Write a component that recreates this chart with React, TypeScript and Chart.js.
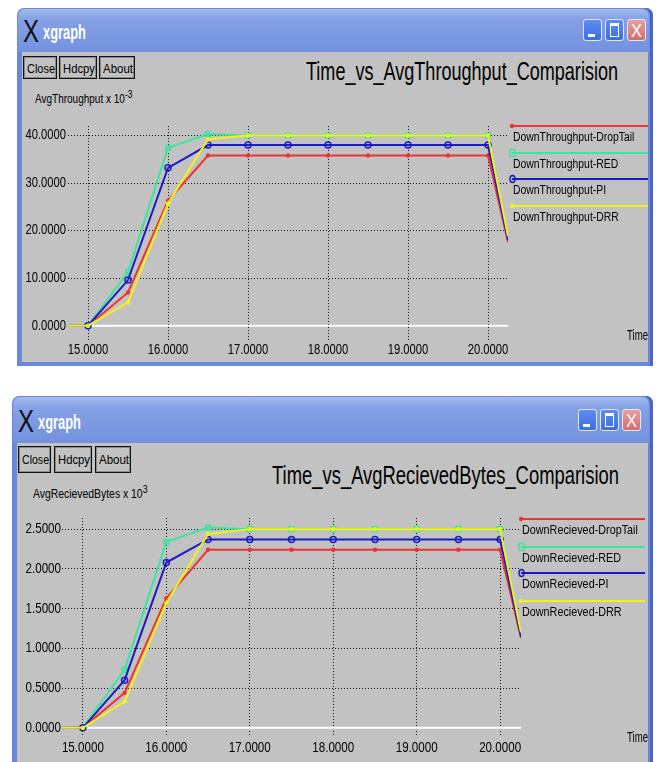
import React, { useEffect, useLayoutEffect, useRef } from "react";
import { Chart, registerables } from "chart.js";
Chart.register(...registerables);

// ---------- data ----------
const TIME = [14.75, 15, 15.5, 16, 16.5, 17, 17.5, 18, 18.5, 19, 19.5, 20, 20.25];
const X_TICKS = [15, 16, 17, 18, 19, 20];

const TP_NAMES = ["DownThroughput-DropTail", "DownThroughput-RED", "DownThroughput-PI", "DownThroughput-DRR"];
const TP_DROPTAIL = [0, 0, 7.0, 26.3, 35.8, 35.8, 35.8, 35.8, 35.8, 35.8, 35.8, 35.8, 17.6];
const TP_RED = [0, 0, 11.3, 37.4, 40.3, 40.0, 40.0, 40.0, 40.0, 40.0, 40.0, 40.0, 18.3];
const TP_PI = [0, 0, 9.6, 33.2, 38.0, 38.0, 38.0, 38.0, 38.0, 38.0, 38.0, 38.0, 18.0];
const TP_DRR = [0, 0, 4.9, 25.7, 39.2, 40.0, 40.0, 40.0, 40.0, 40.0, 40.0, 40.0, 18.8];
const TP_Y_TICKS = [0, 10, 20, 30, 40];

const RB_NAMES = ["DownRecieved-DropTail", "DownRecieved-RED", "DownRecieved-PI", "DownRecieved-DRR"];
const RB_DROPTAIL = [0, 0, 0.44, 1.63, 2.24, 2.24, 2.24, 2.24, 2.24, 2.24, 2.24, 2.24, 1.13];
const RB_RED = [0, 0, 0.73, 2.34, 2.52, 2.5, 2.5, 2.5, 2.5, 2.5, 2.5, 2.5, 1.18];
const RB_PI = [0, 0, 0.6, 2.08, 2.37, 2.37, 2.37, 2.37, 2.37, 2.37, 2.37, 2.37, 1.15];
const RB_DRR = [0, 0, 0.33, 1.57, 2.44, 2.5, 2.5, 2.5, 2.5, 2.5, 2.5, 2.5, 1.2];
const RB_Y_TICKS = [0, 0.5, 1, 1.5, 2, 2.5];

// ---------- styles ----------
const COLORS = ["#f03232", "#3ce69c", "#1c1cc4", "#f2f21a"];
const SANS = "'Liberation Sans', Arial, sans-serif";
const NARROW = 0.8;
const GRAY = "#c2c2c2";
const BLUE = "#6a88da";

function narrowText(ctx: any, text: string, x: number, y: number, size: number, sx: number, align: string) {
  ctx.save();
  ctx.font = `${size}px ${SANS}`;
  const w = ctx.measureText(text).width * sx;
  const x0 = align === "center" ? x - w / 2 : align === "right" ? x - w : x;
  ctx.translate(x0, y);
  ctx.scale(sx, 1);
  ctx.textAlign = "left";
  ctx.textBaseline = "middle";
  ctx.fillStyle = "#000";
  ctx.fillText(text, 0, 0);
  ctx.restore();
}

const decor = {
  id: "xgraphDecor",
  beforeDatasetsDraw(chart: any) {
    const { ctx, chartArea } = chart;
    const y0 = chart.scales.y.getPixelForValue(0);
    ctx.save();
    ctx.strokeStyle = "#ffffff";
    ctx.lineWidth = 2;
    ctx.beginPath();
    ctx.moveTo(chartArea.left, y0);
    ctx.lineTo(chartArea.right, y0);
    ctx.stroke();
    ctx.restore();
  },
  afterDraw(chart: any) {
    const o = chart.options.plugins.xgraphDecor;
    const { ctx, chartArea } = chart;
    const xs = chart.scales.x;
    const ys = chart.scales.y;
    xs.ticks.forEach((t: any) => {
      narrowText(ctx, Number(t.value).toFixed(4), xs.getPixelForValue(t.value), chartArea.bottom + o.xLabelDy, o.tickSize, o.sx, "center");
    });
    ys.ticks.forEach((t: any) => {
      narrowText(ctx, Number(t.value).toFixed(4), chartArea.left - o.yLabelPad, ys.getPixelForValue(t.value), o.tickSize, o.sx, "right");
    });
    ctx.save();
    chart.data.datasets.forEach((ds: any, i: number) => {
      const y = o.legendY[i];
      ctx.strokeStyle = ds.borderColor;
      ctx.lineWidth = 2;
      ctx.beginPath();
      ctx.moveTo(o.x0, y);
      ctx.lineTo(o.x1, y);
      ctx.stroke();
      ctx.fillStyle = ds.borderColor;
      ctx.lineWidth = 1.5;
      if (i === 1) {
        ctx.strokeRect(o.x0 - 2, y - 3.5, 5, 7);
      } else if (i === 2) {
        ctx.beginPath();
        ctx.ellipse(o.x0 + 0.5, y, 2.5, 3.5, 0, 0, Math.PI * 2);
        ctx.stroke();
      } else {
        ctx.beginPath();
        ctx.arc(o.x0, y, 2.2, 0, Math.PI * 2);
        ctx.fill();
      }
      narrowText(ctx, ds.label, o.x0 + 1, y + o.textDy, o.legendSize, o.sx, "left");
    });
    ctx.restore();
  },
};

type PanelCfg = {
  names: string[];
  series: number[][];
  yTicks: number[];
  yMin: number;
  yMax: number;
  left: number;
  top: number;
  w: number;
  h: number;
  padTop: number;
  padRight: number;
  yAxisW: number;
  xAxisH: number;
  xLabelDy: number;
  yLabelPad: number;
  tickSize: number;
  legendSize: number;
  legendY: number[];
  legendX0: number;
  legendX1: number;
  textDy: number;
};

const pointStyles = ["circle", "rect", "circle", "circle"];
const pointRadii = [2.2, 3.3, 3, 2.2];

function Plot({ cfg }: { cfg: PanelCfg }) {
  const ref = useRef<HTMLCanvasElement>(null);
  useEffect(() => {
    const last = TIME.length - 1;
    const hollow = (i: number) => i === 1 || i === 2;
    const chart = new Chart(ref.current as HTMLCanvasElement, {
      type: "line",
      data: {
        datasets: cfg.series.map((vals, i) => ({
          label: cfg.names[i],
          data: TIME.map((t, j) => ({ x: t, y: vals[j] })),
          borderColor: COLORS[i],
          backgroundColor: hollow(i) ? "rgba(0,0,0,0)" : COLORS[i],
          borderWidth: 2,
          tension: 0,
          order: 3 - i,
          pointStyle: pointStyles[i] as any,
          pointBorderWidth: hollow(i) ? 1.5 : 0,
          pointBorderColor: COLORS[i],
          pointBackgroundColor: hollow(i) ? "rgba(0,0,0,0)" : COLORS[i],
          pointRadius: (c: any) => (c.dataIndex === 0 || c.dataIndex === last ? 0 : pointRadii[i]),
          fill: false,
        })),
      },
      options: {
        animation: false,
        responsive: false,
        devicePixelRatio: 1,
        layout: { padding: { top: cfg.padTop, right: cfg.padRight, left: 0, bottom: 0 } },
        plugins: {
          legend: { display: false },
          tooltip: { enabled: false },
          title: { display: false },
          xgraphDecor: {
            legendY: cfg.legendY,
            x0: cfg.legendX0,
            x1: cfg.legendX1,
            legendSize: cfg.legendSize,
            tickSize: cfg.tickSize,
            textDy: cfg.textDy,
            xLabelDy: cfg.xLabelDy,
            yLabelPad: cfg.yLabelPad,
            sx: NARROW,
          },
        } as any,
        scales: {
          x: {
            type: "linear",
            min: TIME[0],
            max: TIME[last],
            afterBuildTicks: (s: any) => {
              s.ticks = X_TICKS.map((v) => ({ value: v }));
            },
            afterFit: (s: any) => {
              s.height = cfg.xAxisH;
            },
            grid: { color: "#151515", lineWidth: 1, drawTicks: false },
            border: { display: false, dash: [1, 2] },
            ticks: { display: false },
          },
          y: {
            type: "linear",
            min: cfg.yMin,
            max: cfg.yMax,
            afterBuildTicks: (s: any) => {
              s.ticks = cfg.yTicks.map((v) => ({ value: v }));
            },
            afterFit: (s: any) => {
              s.width = cfg.yAxisW;
            },
            grid: {
              color: (c: any) => (c.tick && c.tick.value === 0 ? "rgba(0,0,0,0)" : "#151515"),
              lineWidth: 1,
              drawTicks: false,
            },
            border: { display: false, dash: [1, 2] },
            ticks: { display: false },
          },
        },
      } as any,
      plugins: [decor],
    });
    return () => chart.destroy();
  }, []);
  return (
    <canvas
      ref={ref}
      width={cfg.w}
      height={cfg.h}
      style={{ position: "absolute", left: cfg.left, top: cfg.top, width: cfg.w, height: cfg.h }}
    />
  );
}

const abs = (l: number, t: number, w: number, h: number): React.CSSProperties => ({
  position: "absolute",
  left: l,
  top: t,
  width: w,
  height: h,
});

function NText(props: {
  left: number; top: number; size: number; sx?: number; width?: number;
  color?: string; weight?: any; children: any;
}) {
  const ref = useRef<HTMLDivElement>(null);
  useLayoutEffect(() => {
    const el = ref.current as HTMLDivElement;
    el.style.transform = "none";
    const w = el.getBoundingClientRect().width;
    const s = props.width ? props.width / w : props.sx || NARROW;
    el.style.transform = `scaleX(${s})`;
  }, []);
  return (
    <div
      ref={ref}
      style={{
        position: "absolute",
        left: props.left,
        top: props.top,
        fontFamily: SANS,
        fontSize: props.size,
        lineHeight: 1,
        whiteSpace: "nowrap",
        transformOrigin: "0 0",
        color: props.color || "#000",
        fontWeight: props.weight || "normal",
      }}
    >
      {props.children}
    </div>
  );
}

function Btn({ l, t, w, h, label, fs }: { l: number; t: number; w: number; h: number; label: string; fs: number }) {
  return (
    <div
      style={{
        ...abs(l, t, w, h),
        boxSizing: "border-box",
        border: "1px solid #111",
        boxShadow: "inset 0 0 0 1px #8a8a8a",
        background: GRAY,
      }}
    >
      <NText left={3} top={(h - fs) / 2 - 0.5} size={fs} width={w - 6}>
        {label}
      </NText>
    </div>
  );
}

function TitleBtn({ l, t, w, h, kind }: { l: number; t: number; w: number; h: number; kind: string }) {
  const bg = kind === "close" ? "linear-gradient(#e8a0a0,#d46c6c)" : "linear-gradient(#5d8df2,#3b6ee2)";
  return (
    <div
      style={{
        ...abs(l, t, w, h),
        boxSizing: "border-box",
        borderRadius: 3,
        border: "1px solid #dfe8ff",
        background: bg,
      }}
    >
      {kind === "min" && <div style={{ ...abs(4, h - 8, 7, 3), background: "#fff" }} />}
      {kind === "max" && (
        <div style={{ ...abs(4, 3, w - 10, h - 8), boxSizing: "border-box", border: "1.5px solid #fff", borderTopWidth: 3 }} />
      )}
      {kind === "close" && (
        <NText left={3} top={1} size={h - 3} width={w - 8} color="#fff">
          X
        </NText>
      )}
    </div>
  );
}

function Window(props: {
  l: number; t: number; w: number; h: number; barH: number; side: number; bottom: number;
  title: string; titleLeft: number; titleTop: number; titleSize: number; titleW: number;
  yLabel: string; yExp: string; yLabelLeft: number; yLabelTop: number; yLabelSize: number;
  btnTop: number; btns: number[][]; btnFs: number; timeTop: number; cfg: PanelCfg;
}) {
  const p = props;
  const grayL = p.l + p.side;
  const grayT = p.t + p.barH;
  const grayW = p.w - p.side - 5;
  const grayH = p.h - p.barH - p.bottom;
  const tb = (p.barH - 22) / 2;
  return (
    <>
      <div
        style={{
          ...abs(p.l, p.t, p.w, p.h),
          background: BLUE,
          borderRadius: "7px 7px 0 0",
          boxShadow: "inset -3px 0 0 #4a66c8",
        }}
      />
      <div
        style={{
          ...abs(p.l + 1, p.t + 1, p.w - 5, p.barH - 1),
          borderRadius: "7px 7px 0 0",
          background: "linear-gradient(#a6bbef 0%, #86a1e5 22%, #7b98e1 60%, #7592df 100%)",
        }}
      />
      <NText left={p.l + 6} top={p.t + tb - 3} size={31} width={16} color="#111">
        X
      </NText>
      <NText left={p.l + 26} top={p.t + tb + 2} size={21} width={43} color="#fff" weight="bold">
        xgraph
      </NText>
      <TitleBtn l={p.l + 566} t={p.t + tb} w={19} h={22} kind="min" />
      <TitleBtn l={p.l + 588} t={p.t + tb} w={19} h={22} kind="max" />
      <TitleBtn l={p.l + 610} t={p.t + tb} w={19} h={22} kind="close" />
      <div style={{ ...abs(grayL, grayT, grayW, grayH), background: GRAY }} />
      {p.btns.map((b, i) => (
        <Btn key={i} l={b[0]} t={p.btnTop} w={b[1]} h={b[2]} label={["Close", "Hdcpy", "About"][i]} fs={p.btnFs} />
      ))}
      <NText left={p.titleLeft} top={p.titleTop} size={p.titleSize} width={p.titleW}>
        {p.title}
      </NText>
      <NText left={p.yLabelLeft} top={p.yLabelTop} size={p.yLabelSize}>
        {p.yLabel} x 10<sup style={{ fontSize: "0.85em", verticalAlign: "0.45em", lineHeight: 0 }}>{p.yExp}</sup>
      </NText>
      <Plot cfg={p.cfg} />
      <NText left={627} top={p.timeTop} size={14.5} width={21}>
        Time
      </NText>
    </>
  );
}

const topCfg: PanelCfg = {
  names: TP_NAMES,
  series: [TP_DROPTAIL, TP_RED, TP_PI, TP_DRR],
  yTicks: TP_Y_TICKS,
  yMin: -3,
  yMax: 42,
  left: 22,
  top: 52,
  w: 626,
  h: 310,
  padTop: 74,
  padRight: 140,
  yAxisW: 46,
  xAxisH: 22,
  xLabelDy: 10,
  yLabelPad: 2,
  tickSize: 14,
  legendSize: 13,
  legendY: [74, 101, 127, 154],
  legendX0: 490,
  legendX1: 626,
  textDy: 11,
};

const botCfg: PanelCfg = {
  names: RB_NAMES,
  series: [RB_DROPTAIL, RB_RED, RB_PI, RB_DRR],
  yTicks: RB_Y_TICKS,
  yMin: -0.09,
  yMax: 2.64,
  left: 17,
  top: 443,
  w: 631,
  h: 319,
  padTop: 75,
  padRight: 127,
  yAxisW: 45,
  xAxisH: 27,
  xLabelDy: 13,
  yLabelPad: 1,
  tickSize: 14.5,
  legendSize: 13.5,
  legendY: [76, 104, 130, 158],
  legendX0: 504,
  legendX1: 628,
  textDy: 11,
};

export default function App() {
  useEffect(() => {
    document.body.style.margin = "0";
  }, []);
  return (
    <div style={{ position: "relative", width: 666, height: 762, overflow: "hidden", background: "#fff" }}>
      <Window
        l={17} t={8} w={636} h={358} barH={44} side={5} bottom={4}
        title="Time_vs_AvgThroughput_Comparision" titleLeft={306} titleTop={59} titleSize={25} titleW={312}
        yLabel="AvgThroughput" yExp="-3" yLabelLeft={35} yLabelTop={93} yLabelSize={12.5}
        btnTop={56} btns={[[23, 34, 23], [59, 38, 23], [99, 36, 23]]} btnFs={13}
        timeTop={328} cfg={topCfg}
      />
      <Window
        l={12} t={396} w={641} h={380} barH={47} side={5} bottom={0}
        title="Time_vs_AvgRecievedBytes_Comparision" titleLeft={272} titleTop={462} titleSize={26} titleW={347}
        yLabel="AvgRecievedBytes" yExp="3" yLabelLeft={33} yLabelTop={487} yLabelSize={13}
        btnTop={446} btns={[[18, 33, 27], [54, 38, 27], [95, 36, 27]]} btnFs={13.5}
        timeTop={730} cfg={botCfg}
      />
    </div>
  );
}
